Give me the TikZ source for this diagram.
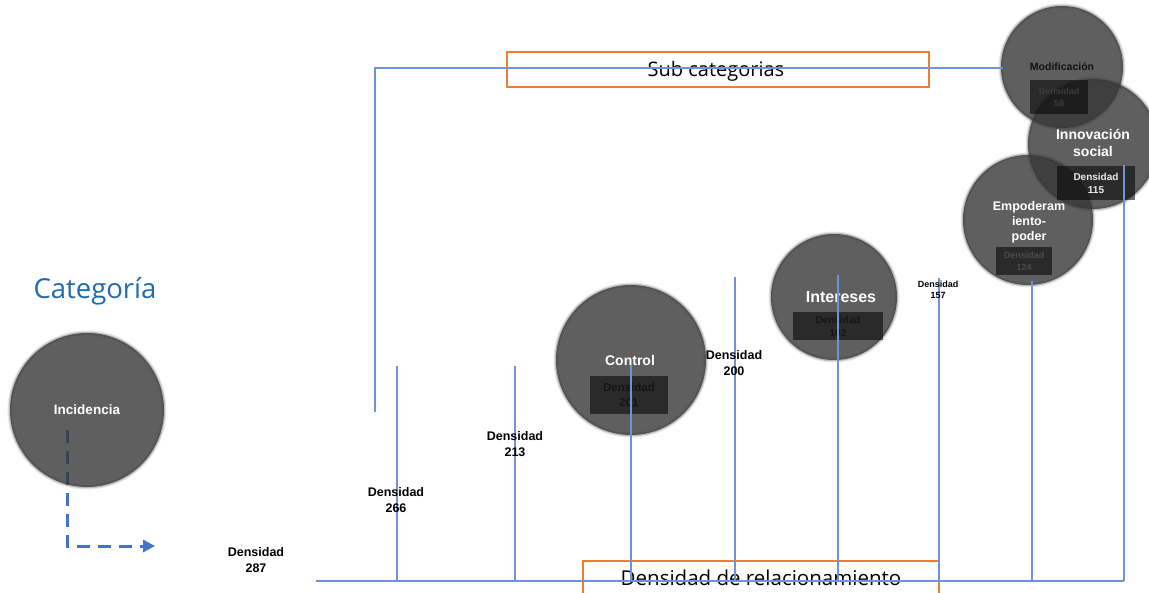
\documentclass[tikz,border=0pt]{standalone}
\usepackage{fontspec}
\setmainfont{Liberation Sans}
\newfontfamily\titlefont{Open Sans}
\usetikzlibrary{arrows.meta}
\definecolor{lblue}{HTML}{4472C4}
\definecolor{lnc}{HTML}{6F93D6}
\definecolor{org}{HTML}{ED7D31}
\definecolor{tblue}{HTML}{1F6BB0}
\definecolor{circ}{HTML}{373737}
\tikzset{
  blob/.style={circle, fill=circ, fill opacity=0.8, text opacity=1, inner sep=0pt, minimum size=#1, align=center, text=white, font=\bfseries,
    preaction={draw=circ, draw opacity=0.12, line width=5pt},
    preaction={draw=circ, draw opacity=0.25, line width=2.5pt}},
  dbox/.style={rectangle, fill=black, fill opacity=0.55, text opacity=1, inner sep=0pt, align=center, font=\bfseries},
  dlab/.style={align=center, font=\bfseries\fontsize{12.5}{15.5}\selectfont, inner sep=0pt},
  thin line/.style={draw=lnc, line width=1.2pt},
  obox/.style={draw=org, line width=1.4pt, inner sep=0pt, font=\titlefont\fontsize{20}{24}\selectfont},
  dasharrow/.style={draw=lblue, line width=3pt, dash pattern=on 13pt off 8pt, -{Triangle[length=12pt,width=12pt]}}
}
\begin{document}
\begin{tikzpicture}[x=1pt,y=-1pt]
\clip (0,0) rectangle (1149,593);
\useasboundingbox (0,0) rectangle (1149,593);

% title
\node[text=tblue, font=\titlefont\fontsize{27.5}{31}\selectfont, inner sep=0pt] (cat) at (95,291) {Categoría};

% dashed arrow (under the circle)
\coordinate (arrS) at (67,430);
\coordinate (arrC) at (67,546);
\coordinate (arrE) at (155,546);
\draw[dasharrow] (arrS) -- (arrC) -- (arrE);

% circles
\node[blob=154, font=\bfseries\fontsize{13.5}{16}\selectfont] (inc) at (87,410) {Incidencia};
\node[blob=150] (ctrl) at (631,360) {};
\node[blob=126] (int) at (834,297) {};
\node[blob=122] (mod) at (1062,67) {};
\node[blob=130] (inn) at (1093,144) {};
\node[blob=130] (emp) at (1028,220) {};

% dark boxes
\node[dbox, minimum width=78, minimum height=38, text={rgb,255:red,20;green,20;blue,20}, font=\bfseries\fontsize{11.5}{15}\selectfont] (ctrlb) at (629,395) {Densidad\\201};
\node[dbox, minimum width=90, minimum height=28, text={rgb,255:red,22;green,22;blue,22}, font=\bfseries\fontsize{10}{13}\selectfont] (intb) at (838,326) {Densidad\\182};
\node[dbox, minimum width=58, minimum height=34, text={rgb,255:red,60;green,60;blue,60}, font=\bfseries\fontsize{9}{12}\selectfont] (modb) at (1059,97) {Densidad\\58};
\node[dbox, minimum width=78, minimum height=34, text=white!92!black, font=\bfseries\fontsize{10}{13}\selectfont] (innb) at (1096,183) {Densidad\\115};
\node[dbox, minimum width=56, minimum height=28, text={rgb,255:red,75;green,75;blue,75}, font=\bfseries\fontsize{9}{12}\selectfont] (empb) at (1024,261) {Densidad\\124};

% circle titles
\node[text=white, font=\bfseries\fontsize{14}{17}\selectfont, inner sep=0pt] (ctrlt) at (630,360) {Control};
\node[text=white, font=\bfseries\fontsize{16}{19}\selectfont, inner sep=0pt] (intt) at (841,297) {Intereses};
\node[text={rgb,255:red,17;green,17;blue,17}, font=\bfseries\fontsize{10.5}{13}\selectfont, inner sep=0pt] (modt) at (1062,67) {Modificación};
\node[text=white, align=center, font=\bfseries\fontsize{14}{17}\selectfont, inner sep=0pt] (innt) at (1093,143) {Innovación\\social};
\node[text=white, align=center, font=\bfseries\fontsize{12.5}{15}\selectfont, inner sep=0pt] (empt) at (1029,222) {Empoderam\\iento-\\poder};

% labelled boxes
\node[obox, minimum width=422, minimum height=35] (sub) at (718,69.5) {};
\node[font=\titlefont\fontsize{20}{24}\selectfont, inner sep=0pt] (subt) at (716,71) {Sub categorias};
\coordinate (relA) at (583,561);
\coordinate (relB) at (939,600);
\draw[draw=org, line width=1.4pt] (relA) rectangle (relB);
\node[font=\titlefont\fontsize{20.5}{24}\selectfont, inner sep=0pt] (relt) at (761,578) {Densidad de relacionamiento};

% lines
\coordinate (tl) at (375,68);
\coordinate (tr) at (1003,68);
\coordinate (lb) at (375,412);
\draw[thin line] (lb) -- (tl) -- (tr);

\coordinate (bl) at (316,581);
\coordinate (br) at (1124,581);
\draw[thin line] (bl) -- (br);

\foreach \n/\x/\t in {a/397/366, b/515/366, c/631/365, d/735/277, e/838/275, f/939/278, g/1032/281, h/1124/165}{
  \coordinate (v\n t) at (\x,\t);
  \coordinate (v\n b) at (\x,581);
  \draw[thin line] (v\n t) -- (v\n b);
}

% density labels
\node[dlab] (d287) at (256,560) {Densidad\\287};
\node[dlab] (d266) at (396,500) {Densidad\\266};
\node[dlab] (d213) at (515,444) {Densidad\\213};
\node[dlab] (d200) at (734,363) {Densidad\\200};
\node[dlab, font=\bfseries\fontsize{9}{11}\selectfont] (d157) at (938,290) {Densidad\\157};
\end{tikzpicture}
\end{document}
